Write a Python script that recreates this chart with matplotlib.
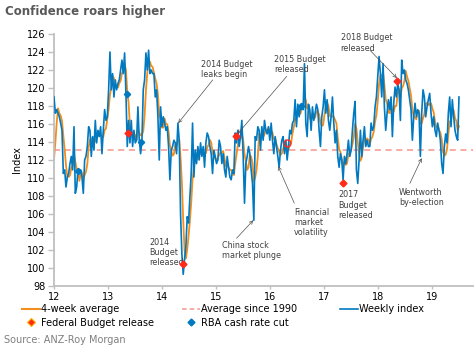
import numpy as np
import pandas as pd
import matplotlib
matplotlib.use("Agg")
import matplotlib.pyplot as plt
from matplotlib.lines import Line2D

# ---- weekly consumer confidence index ----
lead_in = [110.0, 109.0, 110.5]  # late 2011, only feeds the 4-week average

index_2012 = [119.0, 117.2, 117.6, 117.2, 116.8, 116.1, 115.3, 110.5, 110.9, 109.0,
              110.1, 110.5, 111.6, 112.4, 110.9, 115.7, 108.3, 109.0, 110.9, 110.5,
              110.9, 110.1, 108.3, 112.0, 112.4, 113.5, 115.7, 115.3, 112.4, 114.6,
              113.1, 116.4, 113.9, 115.3, 114.6, 115.7, 112.7, 115.3, 117.6, 116.4,
              116.8, 119.8, 124.0, 119.8, 121.6, 119.0, 120.9, 119.8, 120.5]
index_2013 = [120.9, 122.0, 123.1, 121.6, 123.9, 119.4, 113.5, 116.4, 113.9, 116.4,
              113.5, 115.3, 113.9, 114.2, 117.9, 114.2, 112.7, 114.2, 119.8, 120.9,
              123.9, 122.0, 124.2, 121.6, 122.0, 121.6, 121.6, 119.0, 119.8, 116.8,
              112.0, 117.9, 115.7, 116.8, 116.1, 115.3, 115.7, 113.5, 109.8, 113.1,
              113.5, 114.2, 113.9, 112.7, 116.1, 114.2, 106.0, 101.5, 99.3, 101.0,
              102.4]
index_2014 = [105.7, 105.0, 107.9, 110.5, 116.1, 110.1, 113.1, 111.6, 113.5, 112.0,
              113.9, 112.4, 113.5, 111.2, 113.9, 115.0, 114.6, 113.5, 112.7, 110.5,
              113.1, 112.4, 111.6, 112.0, 114.2, 113.5, 111.6, 112.7, 110.9, 110.1,
              112.4, 111.2, 110.1, 109.8, 110.9, 110.5, 115.0, 113.9, 115.3, 113.5,
              114.6, 116.4, 112.4, 107.2, 111.6, 112.4, 113.5, 112.7, 110.9, 109.4,
              105.3]
index_2015 = [114.6, 114.2, 115.7, 115.3, 113.1, 115.7, 114.2, 116.4, 115.3, 114.9,
              115.7, 114.2, 116.1, 114.2, 112.7, 114.6, 113.5, 112.4, 111.2, 113.1,
              114.2, 114.6, 112.7, 114.2, 112.0, 113.5, 115.3, 114.9, 116.1, 116.4,
              118.7, 115.7, 118.2, 116.8, 117.9, 118.2, 117.6, 122.7, 116.1, 114.6,
              118.2, 117.6, 115.3, 117.9, 116.4, 117.2, 118.2, 117.6, 115.3, 113.5,
              116.8, 117.9, 119.8]
index_2017 = [117.2, 118.7, 116.4, 115.3, 116.8, 119.0, 116.1, 113.9, 115.3, 112.4,
              111.2, 112.7, 112.0, 109.8, 112.4, 111.6, 112.7, 114.2, 112.4, 113.1,
              115.3, 117.2, 118.5, 110.9, 109.4, 112.0, 115.3, 112.4, 114.2, 115.7,
              113.5, 114.2, 113.5, 113.5, 116.1, 115.3, 115.7, 117.9, 119.0, 121.3,
              123.5, 121.6, 119.0, 122.7, 117.9, 115.3, 117.2, 118.7, 117.6, 119.0,
              114.6]
index_2018 = [118.3, 120.1, 119.0, 120.5, 119.8, 116.4, 123.1, 121.6, 122.0, 120.9,
              120.5, 119.8, 118.7, 117.6, 114.2, 116.8, 118.3, 116.8, 117.6, 117.2,
              112.4, 117.2, 119.8, 119.0, 116.8, 117.9, 118.7, 119.4, 117.2, 115.7,
              116.8, 115.3, 114.6, 116.1, 115.3, 114.2, 111.6, 110.5, 113.5, 114.9,
              113.9, 117.2, 119.0, 115.7, 118.7, 116.8, 115.3, 114.6, 114.2, 119.0]

first_week = 12.0
last_week = 19.5
avg_since_1990 = 113.1

# events
budget_x = [13.376, 14.39, 15.37, 17.36, 18.36]
budget_y = [115.0, 100.4, 114.7, 109.4, 120.8]
budget16_x = [16.32]
budget16_y = [113.9]
rba_x = [12.44, 13.36, 13.62, 16.58]
rba_y = [110.8, 119.3, 114.0, 118.0]

# ---- build series ----
weekly = lead_in + index_2012 + index_2013 + index_2014 + index_2015 + index_2017 + index_2018
n_main = len(weekly) - len(lead_in)
step = (last_week - first_week) / (n_main - 1)
x = first_week + (np.arange(len(weekly)) - len(lead_in)) * step
s = pd.Series(weekly, index=x)
avg4 = s.rolling(4, min_periods=1).mean()
s = s.iloc[len(lead_in):]
avg4 = avg4.iloc[len(lead_in):]

blue = "#0079C1"
orange = "#F28E1C"
red = "#FF2A1A"
dash_col = "#F4968C"
grey = "#BFBFBF"
txt = "#404040"

plt.rcParams["font.family"] = ["DejaVu Sans"]

fig = plt.figure(figsize=(4.76, 3.54), dpi=100)
ax = fig.add_axes([54 / 476, 1 - 286 / 354, (473 - 54) / 476, (286 - 34) / 354])

ax.axhline(avg_since_1990, color=dash_col, lw=1.1, ls=(0, (4, 3)), zorder=1)
ax.plot(avg4.index, avg4.values, color=orange, lw=1.3, zorder=2)
ax.plot(s.index, s.values, color=blue, lw=1.2, zorder=3)
ax.plot(budget_x, budget_y, ls="none", marker="D", ms=3.5, mfc=red, mec=red, zorder=5)
ax.plot(budget16_x, budget16_y, ls="none", marker="o", ms=5, mfc="none", mec=red, mew=1.0, zorder=5)
ax.plot(rba_x, rba_y, ls="none", marker="D", ms=3.2, mfc=blue, mec=blue, zorder=4)

ax.set_xlim(12, 12 + (473 - 54) / 54)
ax.set_ylim(98, 126)
ax.set_yticks(np.arange(98, 127, 2))
ax.set_xticks(np.arange(12, 20))
for sp in ["top", "right"]:
    ax.spines[sp].set_visible(False)
for sp in ["left", "bottom"]:
    ax.spines[sp].set_color(grey)
    ax.spines[sp].set_linewidth(1.3)
ax.tick_params(axis="y", colors=grey, labelcolor="black", labelsize=7, length=4, width=1, pad=2)
ax.tick_params(axis="x", colors=grey, labelcolor="black", labelsize=7, length=2, width=1, pad=2.5)

# annotations
fs = 5.8
arrow = dict(arrowstyle="->", color="#505050", lw=0.5, shrinkA=0, shrinkB=0, mutation_scale=6)
ax.text(14.72, 122.1, "2014 Budget\nleaks begin", fontsize=fs, color=txt, va="center", linespacing=1.15)
ax.annotate("", xy=(14.30, 116.1), xytext=(14.94, 120.9), arrowprops=arrow)
ax.text(16.07, 122.6, "2015 Budget\nreleased", fontsize=fs, color=txt, va="center", linespacing=1.15)
ax.annotate("", xy=(15.40, 114.9), xytext=(16.31, 121.3), arrowprops=arrow)
ax.text(17.31, 125.0, "2018 Budget\nreleased", fontsize=fs, color=txt, va="center", linespacing=1.15)
ax.annotate("", xy=(18.35, 121.1), xytext=(17.85, 124.2), arrowprops=arrow)
ax.text(17.27, 107.0, "2017\nBudget\nreleased", fontsize=fs, color=txt, va="center", linespacing=1.15)
ax.text(16.44, 105.1, "Financial\nmarket\nvolatility", fontsize=fs, color=txt, va="center", linespacing=1.15)
ax.annotate("", xy=(16.15, 111.3), xytext=(16.45, 107.2), arrowprops=arrow)
ax.text(15.12, 101.9, "China stock\nmarket plunge", fontsize=fs, color=txt, va="center", linespacing=1.15)
ax.annotate("", xy=(15.69, 105.3), xytext=(15.38, 103.3), arrowprops=arrow)
ax.text(13.76, 101.7, "2014\nBudget\nreleased", fontsize=fs, color=txt, va="center", linespacing=1.15)
ax.text(18.39, 107.8, "Wentworth\nby-election", fontsize=fs, color=txt, va="center", linespacing=1.15)
ax.annotate("", xy=(18.81, 112.2), xytext=(18.59, 109.4), arrowprops=arrow)

# titles
fig.text(5 / 476, 1 - 12 / 354, "Confidence roars higher", fontsize=8.5, fontweight="bold",
         color="#595959", va="center", ha="left")
fig.text(17 / 476, 1 - 160 / 354, "Index", fontsize=7, rotation=90, va="center", ha="center")
fig.text(4 / 476, 1 - 340 / 354, "Source: ANZ-Roy Morgan", fontsize=7, color="#7F7F7F",
         va="center", ha="left")

# legend: three columns placed by hand
h_avg = Line2D([], [], color=orange, lw=1.5)
h_bud = Line2D([], [], ls="none", marker="D", ms=4, mfc=red, mec="#FFB000", mew=0.8)
h_90 = Line2D([], [], color=dash_col, lw=1.1, ls=(0, (3, 2)))
h_rba = Line2D([], [], ls="none", marker="D", ms=3.5, mfc=blue, mec=blue)
h_wk = Line2D([], [], color=blue, lw=1.2)
cols = [([h_avg, h_bud], ["4-week average", "Federal Budget release"], 22),
        ([h_90, h_rba], ["Average since 1990", "RBA cash rate cut"], 182),
        ([h_wk], ["Weekly index"], 340)]
for hs, ls_, px in cols:
    fig.legend(hs, ls_, loc="upper left", bbox_to_anchor=(px / 476, 1 - 304 / 354),
               frameon=False, fontsize=7, handlelength=1.9, handletextpad=0.1,
               borderpad=0, borderaxespad=0, labelspacing=0.4)

fig.savefig("out.png", dpi=100)
